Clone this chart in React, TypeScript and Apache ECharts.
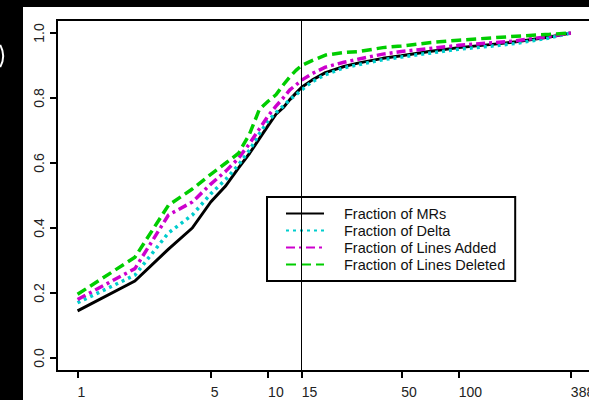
import React, { useEffect, useRef } from "react";
import * as echarts from "echarts";

const xValues = [1, 2, 3, 4, 5, 6, 7, 8, 9, 10, 11, 12, 13, 14, 15, 17, 20, 25, 30, 40, 50, 70, 100, 150, 200, 300, 388];
const fractionMRs = [0.145, 0.237, 0.335, 0.4, 0.48, 0.53, 0.585, 0.63, 0.675, 0.715, 0.75, 0.77, 0.795, 0.815, 0.833, 0.855, 0.878, 0.897, 0.908, 0.922, 0.93, 0.943, 0.955, 0.965, 0.973, 0.988, 1.0];
const fractionDelta = [0.17, 0.255, 0.385, 0.44, 0.505, 0.55, 0.595, 0.64, 0.69, 0.73, 0.755, 0.775, 0.795, 0.81, 0.825, 0.85, 0.872, 0.893, 0.903, 0.918, 0.926, 0.938, 0.95, 0.96, 0.968, 0.985, 1.0];
const fractionAdded = [0.18, 0.275, 0.44, 0.48, 0.535, 0.575, 0.615, 0.66, 0.705, 0.745, 0.775, 0.8, 0.825, 0.84, 0.855, 0.875, 0.895, 0.91, 0.92, 0.935, 0.943, 0.952, 0.962, 0.97, 0.976, 0.99, 1.0];
const fractionDeleted = [0.196, 0.31, 0.47, 0.52, 0.565, 0.6, 0.63, 0.69, 0.765, 0.79, 0.81, 0.84, 0.865, 0.885, 0.9, 0.915, 0.932, 0.94, 0.943, 0.955, 0.96, 0.97, 0.978, 0.985, 0.99, 0.996, 1.0];
const seriesNames = ["Fraction of MRs", "Fraction of Delta", "Fraction of Lines Added", "Fraction of Lines Deleted"];
const xTicks = [1, 5, 10, 15, 50, 100, 388];
const yTicks = [0, 0.2, 0.4, 0.6, 0.8, 1.0];
const markerX = 15;

const FONT = "'Liberation Sans', Arial, sans-serif";

export default function App() {
  const ref = useRef<HTMLDivElement>(null);
  useEffect(() => {
    if (!ref.current) return;
    const chart = echarts.init(ref.current, null, { renderer: "svg" });
    const pair = (ys: number[]) => xValues.map((x, i) => [x, ys[i]]);
    const styles = [
      { color: "#000000", width: 3, type: "solid" as any },
      { color: "#00CDCD", width: 3.5, type: [3, 4] as any },
      { color: "#CD00CD", width: 3.5, type: [9, 4, 3, 4] as any },
      { color: "#00CD00", width: 3.5, type: [10, 5] as any },
    ];
    const dataSets = [fractionMRs, fractionDelta, fractionAdded, fractionDeleted];
    chart.setOption({
      animation: false,
      backgroundColor: "transparent",
      textStyle: { fontFamily: FONT },
      grid: {
        left: 57,
        top: 20,
        width: 534,
        height: 351,
        show: true,
        borderColor: "#000",
        borderWidth: 2,
        backgroundColor: "transparent",
        outerBoundsMode: "none",
        containLabel: false,
      },
      xAxis: {
        type: "log",
        logBase: 10,
        min: 0.78,
        max: 495,
        axisLine: { show: true, onZero: false, lineStyle: { color: "#000", width: 2 } },
        axisTick: { show: true, length: 7, lineStyle: { color: "#000", width: 2 }, customValues: xTicks },
        axisLabel: {
          customValues: xTicks,
          align: "left",
          margin: 14,
          fontSize: 14,
          lineHeight: 14,
          color: "#222",
          fontFamily: FONT,
          hideOverlap: false,
          formatter: (v: number) => String(Math.round(v)),
        },
        splitLine: { show: false },
        minorTick: { show: false },
      },
      yAxis: {
        type: "value",
        min: -0.04,
        max: 1.04,
        axisLine: { show: true, onZero: false, lineStyle: { color: "#000", width: 2 } },
        axisTick: { show: true, length: 7, lineStyle: { color: "#000", width: 2 }, customValues: yTicks },
        axisLabel: {
          customValues: yTicks,
          rotate: 90,
          margin: 11,
          fontSize: 14,
          color: "#222",
          fontFamily: FONT,
          formatter: (v: number) => v.toFixed(1),
        },
        splitLine: { show: false },
      },
      legend: {
        orient: "vertical",
        left: 267,
        top: 197,
        padding: [9, 10, 9, 18],
        itemWidth: 38,
        itemHeight: 14,
        itemGap: 2,
        borderColor: "#000",
        borderWidth: 2,
        borderRadius: 0,
        backgroundColor: "#fff",
        selectedMode: false,
        itemStyle: { color: "transparent", borderWidth: 0, opacity: 0 },
        textStyle: { fontSize: 14.5, color: "#111", fontFamily: FONT, padding: [0, 0, 0, 15] },
        data: seriesNames,
      },
      graphic: [
        {
          type: "arc",
          shape: { cx: -20, cy: 56, r: 23, startAngle: -0.5, endAngle: 0.5 },
          style: { stroke: "#fff", lineWidth: 2, fill: null },
          silent: true,
        },
      ],
      series: dataSets.map((ys, i) => ({
        name: seriesNames[i],
        type: "line",
        data: pair(ys),
        symbol: "none",
        showSymbol: false,
        smooth: false,
        lineStyle: styles[i],
        itemStyle: { color: styles[i].color },
        z: 2 + i * 0.1,
        markLine:
          i === 0
            ? {
                silent: true,
                symbol: "none",
                label: { show: false },
                lineStyle: { color: "#000", width: 1, type: "solid" },
                data: [{ xAxis: markerX }],
              }
            : undefined,
      })),
    });
    return () => chart.dispose();
  }, []);
  return (
    <div style={{ position: "absolute", left: 0, top: 0, width: 589, height: 400, background: "#000", overflow: "hidden" }}>
      <div style={{ position: "absolute", left: 23, top: 7, width: 566, height: 393, background: "#fff" }} />
      <div ref={ref} style={{ position: "absolute", left: 0, top: 0, width: 589, height: 400 }} />
    </div>
  );
}
